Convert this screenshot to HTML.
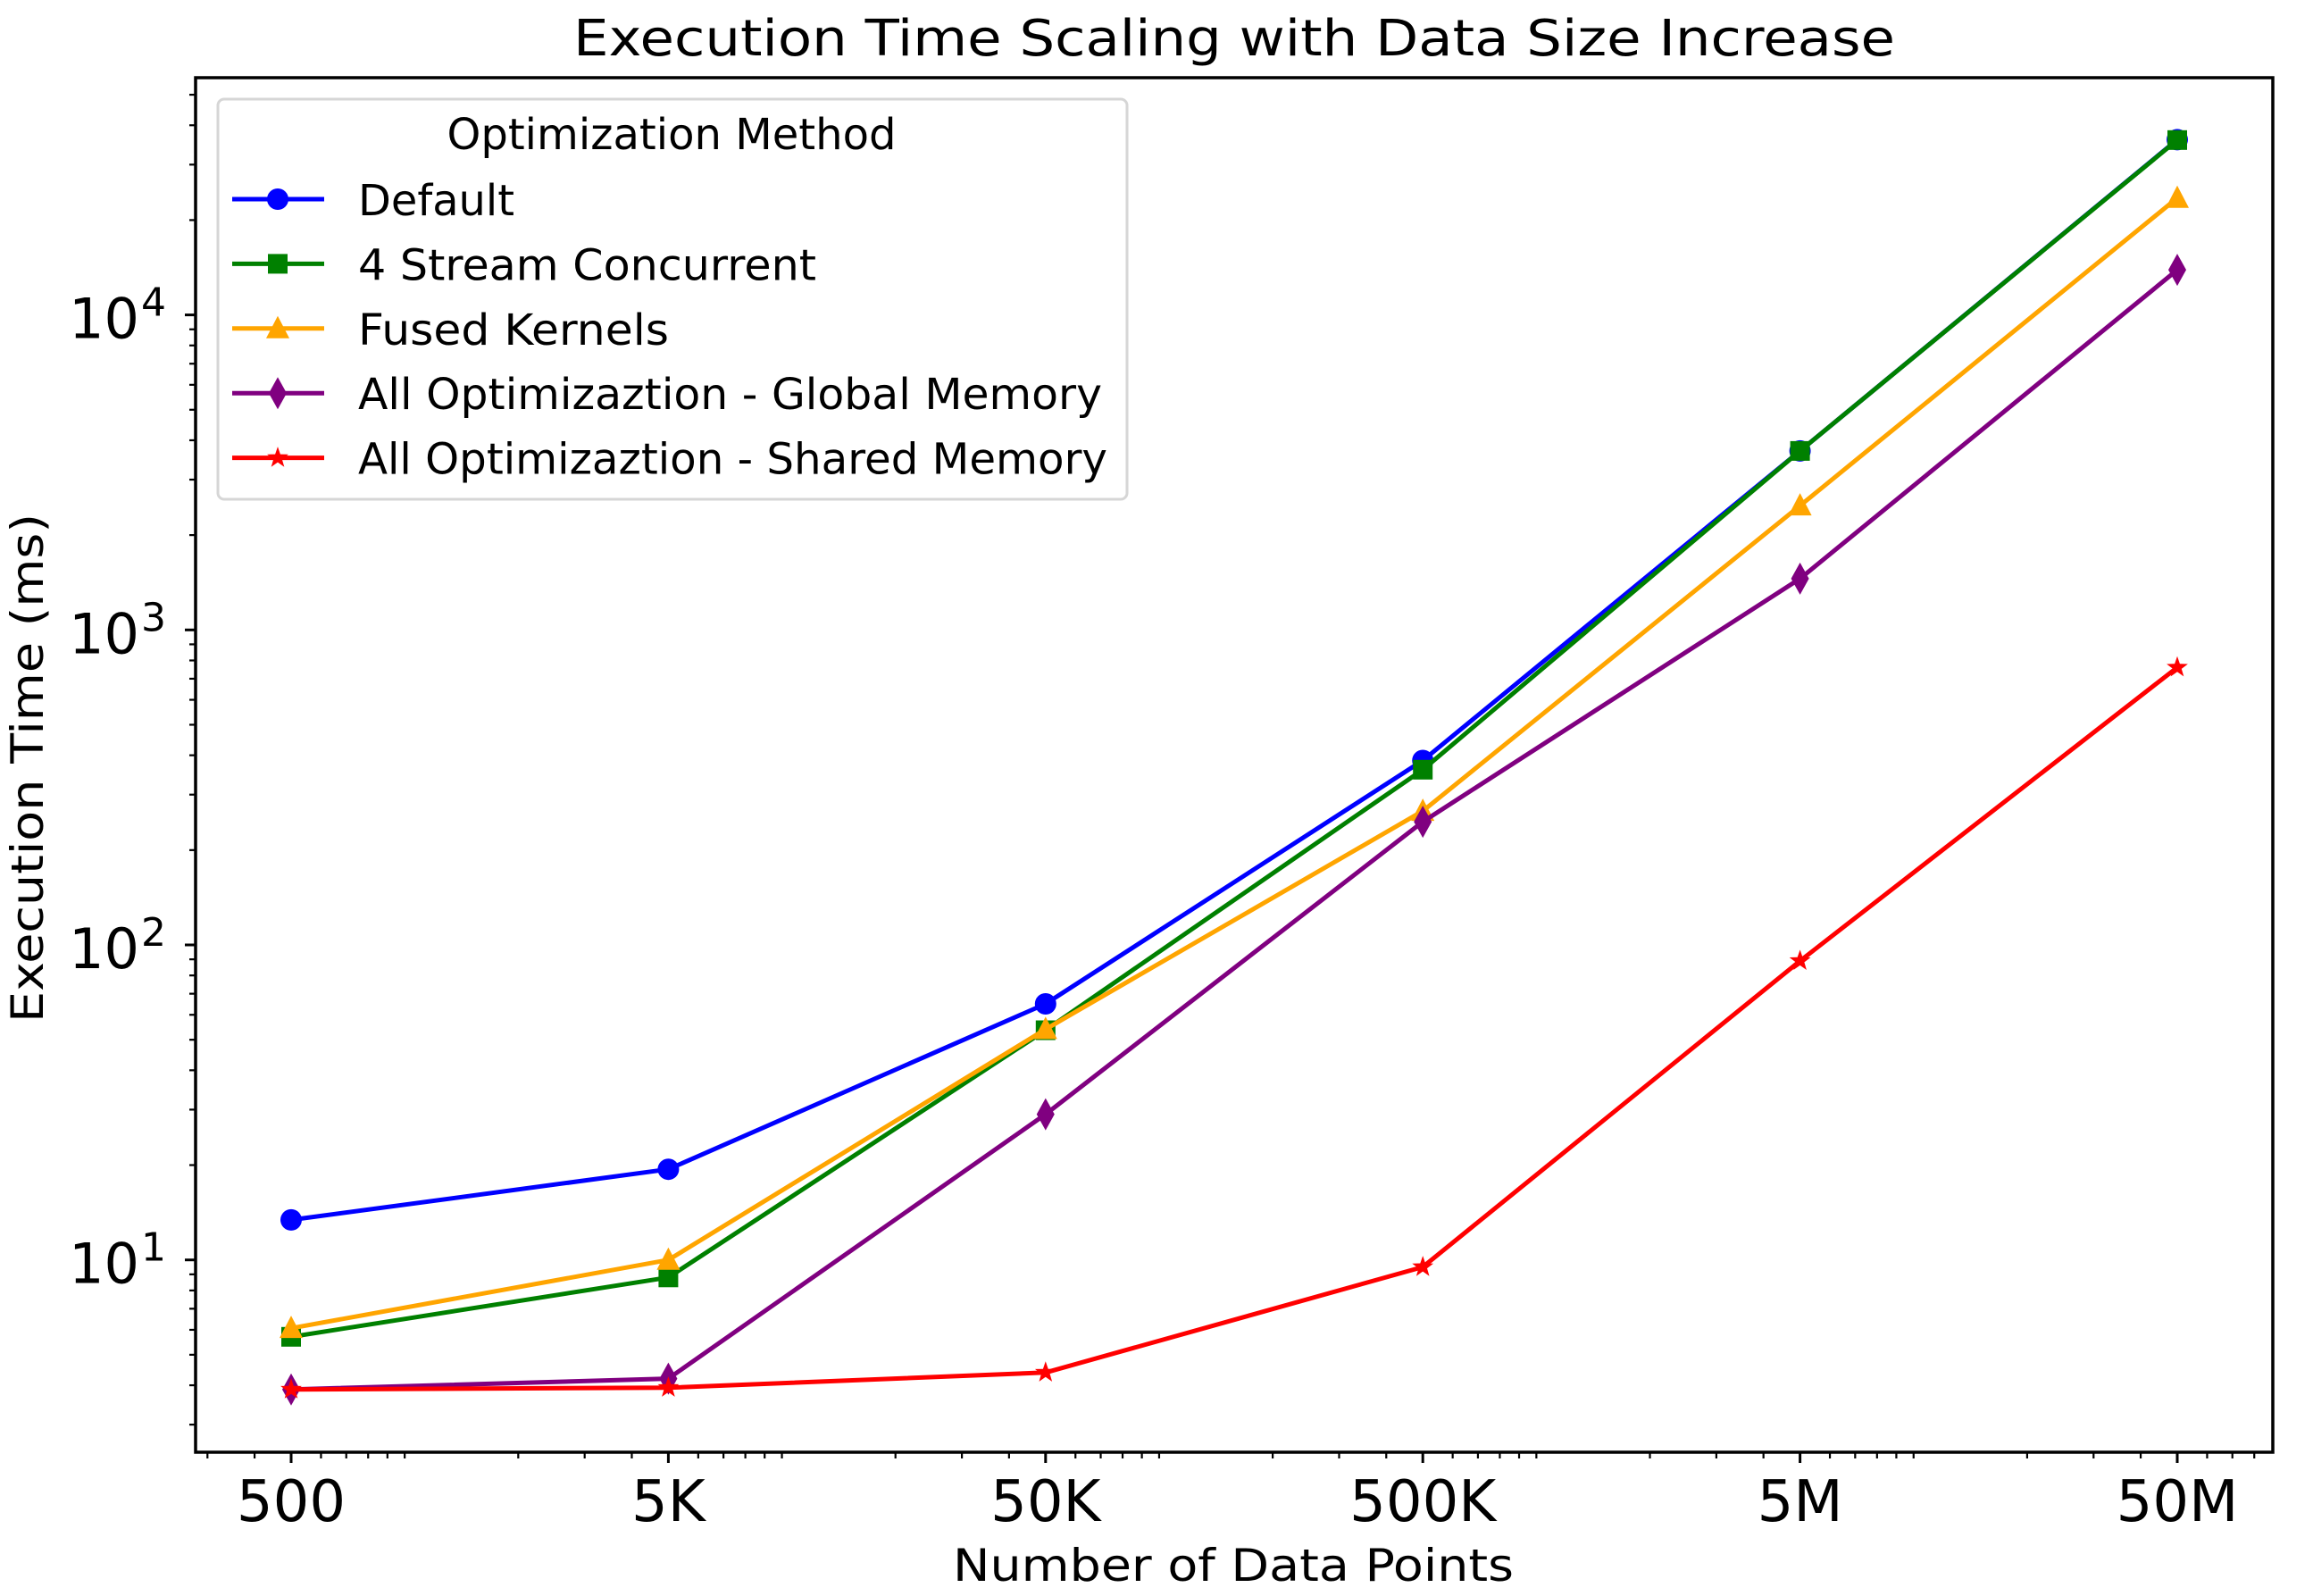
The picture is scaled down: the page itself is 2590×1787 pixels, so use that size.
<!DOCTYPE html>
<html><head><meta charset="utf-8"><style>
html,body{margin:0;padding:0;background:#fff;}
svg{display:block;font-family:"DejaVu Sans","Liberation Sans",sans-serif;}
</style></head>
<body>
<svg id="chart" width="2590" height="1787" viewBox="0 0 2590 1787" xmlns="http://www.w3.org/2000/svg">
<rect width="2590" height="1787" fill="#fff"/>
<text x="1382" y="62" font-size="56" text-anchor="middle" textLength="1480" lengthAdjust="spacingAndGlyphs">Execution Time Scaling with Data Size Increase</text>
<text x="1381" y="1770" font-size="50" text-anchor="middle" textLength="628" lengthAdjust="spacingAndGlyphs">Number of Data Points</text>
<text transform="translate(48,860) rotate(-90)" font-size="50" text-anchor="middle" textLength="570" lengthAdjust="spacingAndGlyphs">Execution Time (ms)</text>
<g id="plot"></g>
<g id="axes"></g>
<g id="legend"></g>
</svg>
<script>
const categories = ["500","5K","50K","500K","5M","50M"];
const xValues = [500,5000,50000,500000,5000000,50000000];
const seriesNames = ["Default","4 Stream Concurrent","Fused Kernels","All Optimizaztion - Global Memory","All Optimizaztion - Shared Memory"];
const defaultVals = [13.4,19.4,65,385,3700,36000];
const streamVals = [5.7,8.8,53.6,360,3700,35900];
const fusedVals = [6.07,10.0,54,266,2480,23500];
const globalVals = [3.88,4.2,29,246,1455,13900];
const sharedVals = [3.88,3.93,4.39,9.5,89,760];
const yTickExps = [1,2,3,4];

const NS="http://www.w3.org/2000/svg";
const L=219,R=2545,T=87,B=1626;
const X0=326, XD=422.4;
function xs(v){return X0+(Math.log10(v)-Math.log10(500))*XD;}
const Y1=1410.7, YD=352.7;
function ys(v){return Y1-(Math.log10(v)-1)*YD;}
function mk(tag,attrs,parent){const e=document.createElementNS(NS,tag);for(const k in attrs)e.setAttribute(k,attrs[k]);parent.appendChild(e);return e;}

const colors=["#0000ff","#008000","#ffa500","#800080","#ff0000"];
const markers=["circle","square","triangle","diamond","star"];
const data=[defaultVals,streamVals,fusedVals,globalVals,sharedVals];

function marker(type,x,y,c,parent,s){
  s=s||1;let e;
  if(type==="circle"){e=mk("circle",{cx:x,cy:y,r:12*s,fill:c},parent);}
  else if(type==="square"){e=mk("rect",{x:x-11*s,y:y-11*s,width:22*s,height:22*s,fill:c},parent);}
  else if(type==="triangle"){e=mk("polygon",{points:`${x},${y-14*s} ${x+13*s},${y+11*s} ${x-13*s},${y+11*s}`,fill:c},parent);}
  else if(type==="diamond"){e=mk("polygon",{points:`${x},${y-18*s} ${x+10*s},${y} ${x},${y+18*s} ${x-10*s},${y}`,fill:c},parent);}
  else{let p=[];for(let i=0;i<10;i++){const a=-Math.PI/2+i*Math.PI/5;const r=(i%2?5:12.5)*s;p.push((x+r*Math.cos(a)).toFixed(1)+","+(y+r*Math.sin(a)).toFixed(1));}
    e=mk("polygon",{points:p.join(" "),fill:c},parent);}
  return e;
}

const plot=document.getElementById("plot");
data.forEach((vals,si)=>{
  const g=mk("g",{},plot);
  
  
  const pts=vals.map((v,i)=>xs(xValues[i]).toFixed(1)+","+ys(v).toFixed(1)).join(" ");
  const pl=mk("polyline",{points:pts,fill:"none",stroke:colors[si],"stroke-width":5,"stroke-linejoin":"round"},g);
  
  
  vals.forEach((v,i)=>{
    const m=marker(markers[si],xs(xValues[i]),ys(v),colors[si],g);
    
    
  });
});

const axes=document.getElementById("axes");
const frame=mk("rect",{x:L,y:T,width:R-L,height:B-T,fill:"none",stroke:"#000","stroke-width":3.5},axes);


const xminLog=Math.log10(500)-(X0-L)/XD, xmaxLog=Math.log10(500)+(R-X0)/XD;
for(let e=2;e<=8;e++){for(let k=1;k<=9;k++){const v=k*Math.pow(10,e);const lv=Math.log10(v);if(lv<xminLog||lv>xmaxLog)continue;const x=xs(v);
  const isMaj=xValues.some(m=>Math.abs(m-v)<1e-6*v);
  const t=mk("line",{x1:x,y1:B,x2:x,y2:B+(isMaj?12:7),stroke:"#000","stroke-width":isMaj?3:2.2},axes);
  
  }}
categories.forEach((c,i)=>{const t=mk("text",{x:xs(xValues[i]),y:1703,"font-size":64,"text-anchor":"middle"},axes);t.textContent=c;
  
  });
const yminLog=1-(B-Y1)/YD, ymaxLog=1+(Y1-T)/YD;
for(let e=0;e<=4;e++){for(let k=1;k<=9;k++){const v=k*Math.pow(10,e);const lv=Math.log10(v);if(lv<yminLog||lv>ymaxLog)continue;const y=ys(v);const isMaj=k===1;
  const t=mk("line",{x1:L,y1:y,x2:L-(isMaj?12:7),y2:y,stroke:"#000","stroke-width":isMaj?3:2.2},axes);
  
  }}
yTickExps.forEach(ex=>{const y=ys(Math.pow(10,ex));
  const t=mk("text",{x:156,y:y+26,"font-size":62,"text-anchor":"end"},axes);t.textContent="10";
  
  
  const s=mk("text",{x:158,y:y+1,"font-size":44},axes);s.textContent=String(ex);
  
  });

const lg=document.getElementById("legend");
const box=mk("rect",{x:244,y:111,width:1018,height:448,rx:7,fill:"#fff","fill-opacity":0.85,stroke:"#d6d6d6","stroke-width":3},lg);


const lt=mk("text",{x:752,y:167,"font-size":48,"text-anchor":"middle",textLength:503,lengthAdjust:"spacingAndGlyphs"},lg);lt.textContent="Optimization Method";


const legendWidths=[175,513,348,833,839];
seriesNames.forEach((n,i)=>{const yb=241+i*72.4, yc=yb-18;
  const g=mk("g",{},lg);
  
  
  mk("line",{x1:260,y1:yc,x2:363,y2:yc,stroke:colors[i],"stroke-width":5},g);
  marker(markers[i],311,yc,colors[i],g);
  const t=mk("text",{x:401,y:yb,"font-size":48,textLength:legendWidths[i],lengthAdjust:"spacingAndGlyphs"},g);t.textContent=n;
});
</script>
</body></html>
